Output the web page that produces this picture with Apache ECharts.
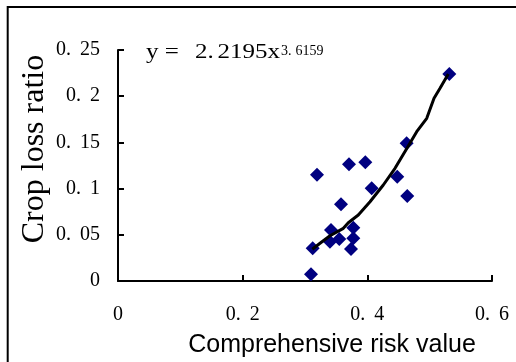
<!DOCTYPE html>
<html>
<head>
<meta charset="utf-8">
<script src="https://cdn.jsdelivr.net/npm/echarts@6/dist/echarts.min.js"></script>
<style>
html,body{margin:0;padding:0;background:#fff;}
#chart{width:516px;height:362px;}
</style>
</head>
<body>
<div id="chart"></div>
<script>
// Data
var riskValues = [0.5315, 0.463, 0.3706, 0.3968, 0.3193, 0.448, 0.407, 0.464, 0.3578, 0.3417, 0.3775, 0.340, 0.355, 0.3775, 0.3738, 0.3123, 0.3096];
var lossRatios = [0.224, 0.149, 0.1263, 0.1284, 0.115, 0.1129, 0.1003, 0.092, 0.083, 0.0552, 0.0577, 0.0425, 0.0455, 0.0462, 0.0346, 0.0354, 0.0073];
// Trend line vertices
var trendX = [0.3117, 0.3241, 0.3401, 0.3615, 0.3695, 0.3855, 0.4043, 0.4256, 0.4444, 0.4657, 0.4792, 0.4953, 0.5070, 0.5166, 0.5299];
var trendY = [0.0343, 0.0408, 0.0490, 0.0570, 0.0631, 0.0714, 0.0858, 0.1039, 0.1220, 0.1461, 0.1616, 0.1761, 0.1977, 0.2085, 0.2240];
var xTicks = [0, 0.2, 0.4, 0.6];
var yTicks = [0, 0.05, 0.1, 0.15, 0.2, 0.25];
var xAxisTitle = 'Comprehensive risk value';
var yAxisTitle = 'Crop loss ratio';
var equationMain = ['y = ', '2.', '2195x'];
var equationSup = ['3.', '6159'];

var scatterData = riskValues.map(function (x, i) { return [x, lossRatios[i]]; });
var trendData = trendX.map(function (x, i) { return [x, trendY[i]]; });

function tickFmt(v) {
  var s = String(+(+v).toFixed(2));
  var idx = s.indexOf('.');
  if (idx < 0) return '{d|' + s + '}';
  return '{p|' + s.slice(0, idx + 1) + '}{d|' + s.slice(idx + 1) + '}';
}
var labelRich = {
  d: { fontFamily: 'Liberation Serif', fontSize: 20, color: '#000' },
  p: { fontFamily: 'Liberation Serif', fontSize: 20, color: '#000', padding: [0, 9, 0, 0] }
};

var chart = echarts.init(document.getElementById('chart'), null, { renderer: 'canvas' });
chart.setOption({
  animation: false,
  backgroundColor: '#fff',
  grid: { left: 118, right: 24, top: 50, bottom: 81, containLabel: false },
  xAxis: {
    type: 'value',
    min: xTicks[0], max: xTicks[xTicks.length - 1], interval: xTicks[1] - xTicks[0],
    splitLine: { show: false },
    axisLine: { show: true, lineStyle: { color: '#000', width: 2 } },
    axisTick: { show: true, inside: true, length: 6, lineStyle: { color: '#000', width: 2 } },
    axisLabel: { margin: 24, formatter: tickFmt, rich: labelRich, color: '#000' }
  },
  yAxis: {
    type: 'value',
    min: yTicks[0], max: yTicks[yTicks.length - 1], interval: yTicks[1] - yTicks[0],
    splitLine: { show: false },
    axisLine: { show: true, lineStyle: { color: '#000', width: 2 } },
    axisTick: { show: true, inside: true, length: 6, lineStyle: { color: '#000', width: 2 } },
    axisLabel: { margin: 18, formatter: tickFmt, rich: labelRich, color: '#000' }
  },
  series: [
    {
      type: 'scatter',
      data: scatterData,
      symbol: 'diamond',
      symbolSize: 14,
      itemStyle: { color: '#000080', opacity: 1 }
    },
    {
      type: 'line',
      data: trendData,
      showSymbol: false,
      symbol: 'none',
      smooth: false,
      lineStyle: { color: '#000', width: 3 },
      z: 5
    }
  ],
  graphic: [
    {
      type: 'polyline',
      shape: { points: [[516, 7], [7.7, 7], [7.7, 362]] },
      style: { stroke: '#000', lineWidth: 2, fill: null }
    },
    {
      type: 'text',
      x: 146, y: 53,
      scaleX: 1.25,
      style: {
        text: '{a|' + equationMain[0] + '}{b|' + equationMain[1] + '}{c|' + equationMain[2] + '}',
        textVerticalAlign: 'middle',
        rich: {
          a: { fontFamily: 'Liberation Serif', fontSize: 20, fill: '#000', padding: [0, 8, 0, 0] },
          b: { fontFamily: 'Liberation Serif', fontSize: 20, fill: '#000', padding: [0, 3, 0, 0] },
          c: { fontFamily: 'Liberation Serif', fontSize: 20, fill: '#000' }
        }
      }
    },
    {
      type: 'text',
      x: 281, y: 51,
      style: {
        text: '{a|' + equationSup[0] + '}{b|' + equationSup[1] + '}',
        textVerticalAlign: 'middle',
        rich: {
          a: { fontFamily: 'Liberation Serif', fontSize: 14, fill: '#000', padding: [0, 4, 0, 0] },
          b: { fontFamily: 'Liberation Serif', fontSize: 14, fill: '#000' }
        }
      }
    },
    {
      type: 'text',
      x: 332, y: 345,
      style: {
        text: xAxisTitle,
        fontFamily: 'Liberation Sans', fontSize: 25, fill: '#000',
        textAlign: 'center', textVerticalAlign: 'middle'
      }
    },
    {
      type: 'text',
      x: 35, y: 149,
      rotation: Math.PI / 2,
      style: {
        text: yAxisTitle,
        fontFamily: 'Liberation Serif', fontSize: 32, fill: '#000',
        textAlign: 'center', textVerticalAlign: 'middle'
      }
    }
  ]
});
</script>
</body>
</html>
